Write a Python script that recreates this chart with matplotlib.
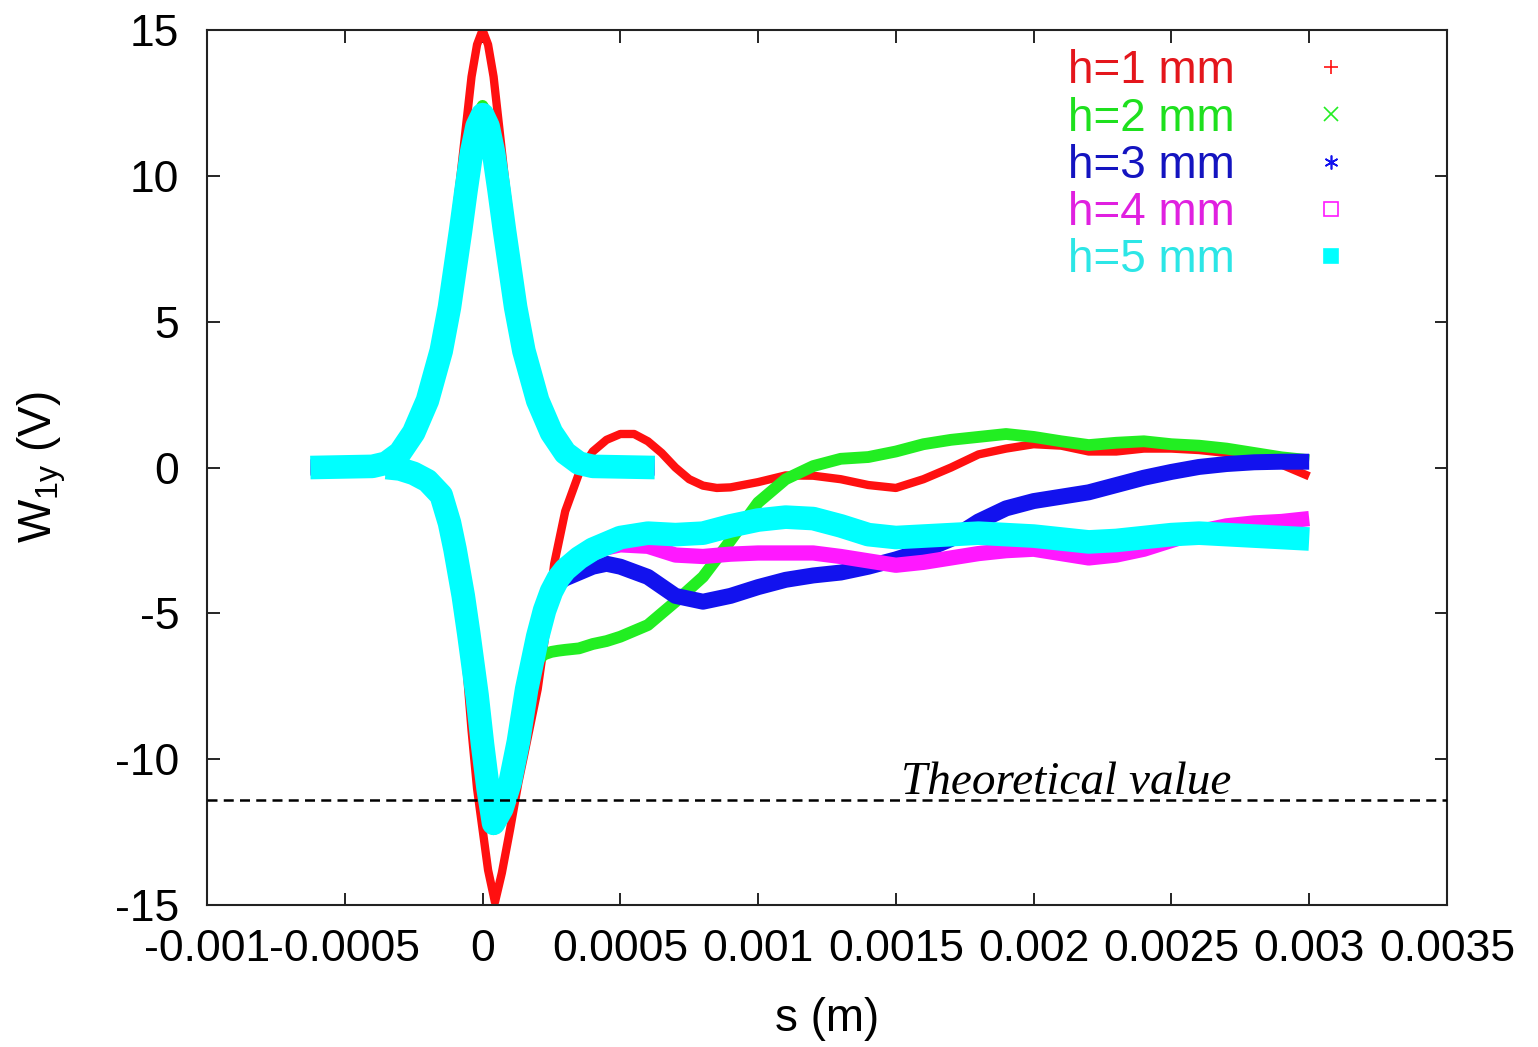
import matplotlib
matplotlib.use("Agg")
import matplotlib.pyplot as plt
from matplotlib.lines import Line2D

plt.rcParams["font.family"] = ["Liberation Sans", "DejaVu Sans"]
plt.rcParams["axes.unicode_minus"] = False

# ---- bunch profile (positive pulse), s in metres ----
pulse_s = [-0.000625, -0.0004, -0.00035, -0.0003, -0.00025, -0.0002, -0.00015,
           -0.00012, -0.0001, -0.00008, -0.00006, -0.00004, -0.00002, 0.0,
           0.00002, 0.00004, 0.00006, 0.00008, 0.0001, 0.00012, 0.00015,
           0.0002, 0.00025, 0.0003, 0.00035, 0.0004, 0.000625]
pulse_h1 = [0, 0.05, 0.18, 0.6, 1.5, 2.85, 5.0, 6.8, 8.4, 10.0, 11.7, 13.4, 14.5, 15.0,
            14.5, 13.4, 11.7, 10.0, 8.4, 6.8, 5.0, 2.85, 1.5, 0.6, 0.18, 0.05, 0]
pulse_h2 = [0, 0.04, 0.15, 0.5, 1.22, 2.35, 4.1, 5.6, 6.95, 8.3, 9.7, 11.05, 12.0, 12.4,
            12.0, 11.05, 9.7, 8.3, 6.95, 5.6, 4.1, 2.35, 1.22, 0.5, 0.15, 0.04, 0]
pulse_h3 = [0, 0.04, 0.15, 0.5, 1.2, 2.3, 4.0, 5.5, 6.8, 8.1, 9.5, 10.8, 11.7, 12.1,
            11.7, 10.8, 9.5, 8.1, 6.8, 5.5, 4.0, 2.3, 1.2, 0.5, 0.15, 0.04, 0]
pulse_h4 = pulse_h3
pulse_h5 = pulse_h3

# ---- wake potentials ----
wake_s_h1 = [-0.00035, -0.0003, -0.00025, -0.0002, -0.00015, -0.00012, -0.0001,
             -0.00007, -0.00004, -0.00002, 0.0, 0.00002, 0.000045, 0.00007, 0.0001,
             0.00013, 0.00015, 0.0002, 0.00023, 0.00026, 0.0003, 0.00035, 0.0004,
             0.00045, 0.0005, 0.00055, 0.0006, 0.00065, 0.0007, 0.00075, 0.0008,
             0.00085, 0.0009, 0.001, 0.0011, 0.0012, 0.0013, 0.0014, 0.0015, 0.0016,
             0.0017, 0.0018, 0.0019, 0.002, 0.0021, 0.0022, 0.0023, 0.0024, 0.0025,
             0.0026, 0.0027, 0.0028, 0.0029, 0.003]
wake_h1 = [0, -0.05, -0.2, -0.45, -0.95, -1.9, -3.0, -5.5, -9.0, -11.0, -12.4, -13.8,
           -14.9, -13.9, -12.4, -10.8, -9.9, -7.6, -5.6, -3.3, -1.5, -0.2, 0.55, 0.95,
           1.15, 1.15, 0.9, 0.5, 0.0, -0.4, -0.62, -0.7, -0.68, -0.5, -0.27, -0.28,
           -0.4, -0.6, -0.7, -0.4, 0.0, 0.45, 0.65, 0.8, 0.75, 0.55, 0.55, 0.65, 0.65,
           0.6, 0.5, 0.35, 0.1, -0.3]

wake_s = [-0.00035, -0.0003, -0.00025, -0.0002, -0.00015, -0.00012, -0.0001, -0.00007,
          -0.00005, -0.00002, 0.0, 0.00002, 0.00004, 0.00007, 0.0001, 0.00013, 0.00016,
          0.0002, 0.000225, 0.00025, 0.000275, 0.0003, 0.00035, 0.0004, 0.00045,
          0.0005, 0.0006, 0.0007, 0.0008, 0.0009, 0.001, 0.0011, 0.0012, 0.0013,
          0.0014, 0.0015, 0.0016, 0.0017, 0.0018, 0.0019, 0.002, 0.0021, 0.0022,
          0.0023, 0.0024, 0.0025, 0.0026, 0.0027, 0.0028, 0.0029, 0.003]
wake_h2 = [0, -0.05, -0.2, -0.45, -0.95, -1.9, -2.8, -4.5, -5.8, -8.0, -9.7, -11.2,
           -12.4, -11.9, -11.0, -9.6, -7.9, -6.6, -6.4, -6.32, -6.28, -6.25, -6.2,
           -6.05, -5.95, -5.8, -5.4, -4.6, -3.75, -2.5, -1.2, -0.4, 0.05, 0.3, 0.36,
           0.55, 0.8, 0.95, 1.05, 1.15, 1.05, 0.9, 0.77, 0.85, 0.9, 0.8, 0.75, 0.65,
           0.5, 0.35, 0.25]
wake_h3 = [0, -0.05, -0.2, -0.45, -0.95, -1.9, -2.8, -4.4, -5.7, -7.8, -9.5, -11.0,
           -12.2, -11.7, -10.8, -9.4, -7.6, -5.8, -4.9, -4.25, -3.95, -3.8, -3.6, -3.4,
           -3.3, -3.4, -3.75, -4.4, -4.6, -4.4, -4.1, -3.85, -3.7, -3.6, -3.4, -3.15,
           -2.85, -2.45, -1.85, -1.4, -1.15, -1.0, -0.85, -0.6, -0.35, -0.15, 0.02,
           0.12, 0.18, 0.2, 0.2]
wake_h4 = [0, -0.05, -0.2, -0.45, -0.95, -1.9, -2.8, -4.4, -5.7, -7.8, -9.5, -11.0,
           -12.2, -11.7, -10.8, -9.4, -7.6, -5.8, -4.9, -4.25, -3.85, -3.55, -3.2,
           -2.95, -2.75, -2.65, -2.7, -3.0, -3.05, -2.97, -2.93, -2.93, -2.93, -3.05,
           -3.2, -3.35, -3.25, -3.1, -2.95, -2.85, -2.8, -2.95, -3.1, -3.0, -2.8, -2.5,
           -2.2, -2.0, -1.9, -1.85, -1.75]
wake_h5 = [0, -0.05, -0.2, -0.45, -0.95, -1.9, -2.8, -4.4, -5.7, -7.8, -9.5, -11.0,
           -12.2, -11.7, -10.8, -9.4, -7.6, -5.8, -4.9, -4.25, -3.8, -3.5, -3.1, -2.8,
           -2.6, -2.4, -2.25, -2.3, -2.25, -2.0, -1.8, -1.7, -1.75, -2.0, -2.3, -2.4,
           -2.35, -2.3, -2.25, -2.3, -2.35, -2.45, -2.55, -2.5, -2.4, -2.3, -2.25,
           -2.3, -2.35, -2.4, -2.45]

theory_value = -11.4

labels = ["h=1 mm", "h=2 mm", "h=3 mm", "h=4 mm", "h=5 mm"]
line_colors = ["#ff1010", "#22ee22", "#1212ee", "#ff18ff", "#00ffff"]
text_colors = ["#e4161c", "#1ee01e", "#1414c0", "#e020e0", "#2ce6e6"]
widths = [6, 8.5, 11.5, 11, 17]
key_markers = ["+", "x", (6, 2, 0), "s", "s"]
key_filled = [True, True, True, False, True]

xticks = [-0.001, -0.0005, 0, 0.0005, 0.001, 0.0015, 0.002, 0.0025, 0.003, 0.0035]
xtick_labels = ["-0.001", "-0.0005", "0", "0.0005", "0.001", "0.0015",
                "0.002", "0.0025", "0.003", "0.0035"]
yticks = [-15, -10, -5, 0, 5, 10, 15]

pulses = [pulse_h1, pulse_h2, pulse_h3, pulse_h4, pulse_h5]
wakes = [(wake_s_h1, wake_h1), (wake_s, wake_h2), (wake_s, wake_h3),
         (wake_s, wake_h4), (wake_s, wake_h5)]

fig = plt.figure(figsize=(15.38, 10.47), dpi=100)
ax = fig.add_axes([0.1346, 0.1356, 0.8062, 0.8357])

# h=1 first, h=5 on top
for i in range(5):
    kw = dict(color=line_colors[i], lw=widths[i], solid_capstyle="butt",
              solid_joinstyle="round", zorder=2 + i)
    ax.plot(pulse_s, pulses[i], **kw)
    ax.plot(wakes[i][0], wakes[i][1], **kw)

ax.axhline(theory_value, color="black", lw=1.8, ls=(0, (4, 2.5)), zorder=10)
ax.text(0.00152, theory_value + 0.2, "Theoretical value", fontsize=34,
        family="Liberation Serif", style="italic", ha="left", va="baseline",
        zorder=11)

ax.set_xlim(-0.001, 0.0035)
ax.set_ylim(-15, 15)
ax.set_xticks(xticks)
ax.set_xticklabels(xtick_labels)
ax.set_yticks(yticks)
ax.tick_params(direction="in", length=9, width=1.2, top=True, right=True)
ax.tick_params(axis="x", labelsize=32, pad=17)
ax.tick_params(axis="y", labelsize=32, pad=20)
for sp in ax.spines.values():
    sp.set_linewidth(1.5)
    sp.set_color("#222222")

ax.set_xlabel("s (m)", fontsize=33)
ax.set_ylabel(r"W$_\mathregular{1y}$ (V)", fontsize=33)
ax.xaxis.set_label_coords(0.5, -0.105)
ax.yaxis.set_label_coords(-0.112, 0.5)

# gnuplot-style key: coloured text, point symbol to the right
handles = []
for i in range(5):
    face = line_colors[i] if key_filled[i] else "none"
    handles.append(Line2D([], [], ls="none", marker=key_markers[i], markersize=10,
                          markeredgewidth=1.2, color=line_colors[i],
                          markerfacecolor=face))
leg = ax.legend(handles, labels, loc="upper right", bbox_to_anchor=(0.925, 0.978),
                fontsize=33, frameon=False, markerfirst=False, handlelength=1.0,
                handletextpad=1.6, labelspacing=0.07, borderpad=0, borderaxespad=0,
                labelcolor=text_colors)

fig.savefig("out.png", dpi=100, facecolor="white")
